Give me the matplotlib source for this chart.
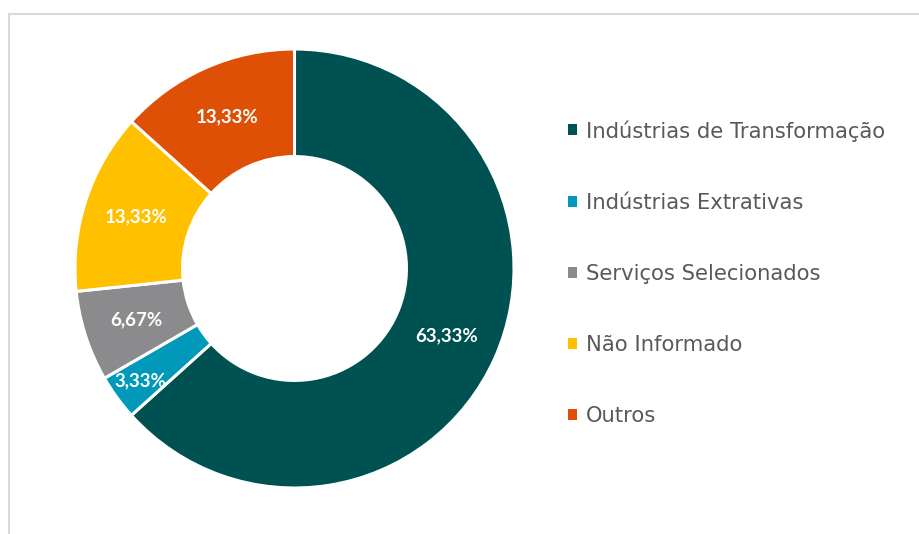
import matplotlib
matplotlib.use("Agg")
import matplotlib.pyplot as plt
import numpy as np
from matplotlib.lines import Line2D
from matplotlib.patches import Patch

# sector data, clockwise from 12 o'clock
categories = [
    "Indústrias de Transformação",
    "Indústrias Extrativas",
    "Serviços Selecionados",
    "Não Informado",
    "Outros",
]
shares = [63.33, 3.33, 6.67, 13.33, 13.33]
share_labels = ["63,33%", "3,33%", "6,67%", "13,33%", "13,33%"]
colors = ["#005151", "#0099BA", "#8B8B8D", "#FFC000", "#DD5005"]

fig = plt.figure(figsize=(9.19, 5.34), dpi=100)

ax = fig.add_axes((75 / 919, 46 / 534, 439 / 919, 439 / 534))
wedges, _ = ax.pie(
    shares,
    colors=colors,
    startangle=90,
    counterclock=False,
    radius=1.0,
    wedgeprops=dict(width=0.49, edgecolor="white", linewidth=2.2),
)
ax.set_xlim(-1, 1)
ax.set_ylim(-1, 1)
ax.axis("off")

# data labels sit mid-ring, the small one is pushed outward as in Excel
label_radius = [0.757, 0.87, 0.757, 0.757, 0.757]
for wedge, text, r in zip(wedges, share_labels, label_radius):
    mid = np.deg2rad((wedge.theta1 + wedge.theta2) / 2)
    ax.text(
        r * np.cos(mid),
        r * np.sin(mid),
        text,
        ha="center",
        va="center",
        color="white",
        fontsize=13.5,
        fontweight="bold",
        family="Lato",
    )

handles = [Patch(facecolor=c, edgecolor="none") for c in colors]
fig.legend(
    handles,
    categories,
    loc="upper left",
    bbox_to_anchor=(549 / 919, 1 - 101 / 534),
    frameon=False,
    handlelength=0.42,
    handleheight=0.42,
    handletextpad=0.45,
    labelspacing=2.42,
    prop=dict(family="DejaVu Sans", size=15.2),
    labelcolor="#595959",
)

# light frame around the chart area (only top and left visible)
frame_color = "#D9D9D9"
fig.add_artist(Line2D([9 / 919, 1], [1 - 14 / 534, 1 - 14 / 534],
                      transform=fig.transFigure, color=frame_color, lw=1.5))
fig.add_artist(Line2D([9 / 919, 9 / 919], [0, 1 - 14 / 534],
                      transform=fig.transFigure, color=frame_color, lw=1.5))

fig.savefig("out.png", dpi=100)
